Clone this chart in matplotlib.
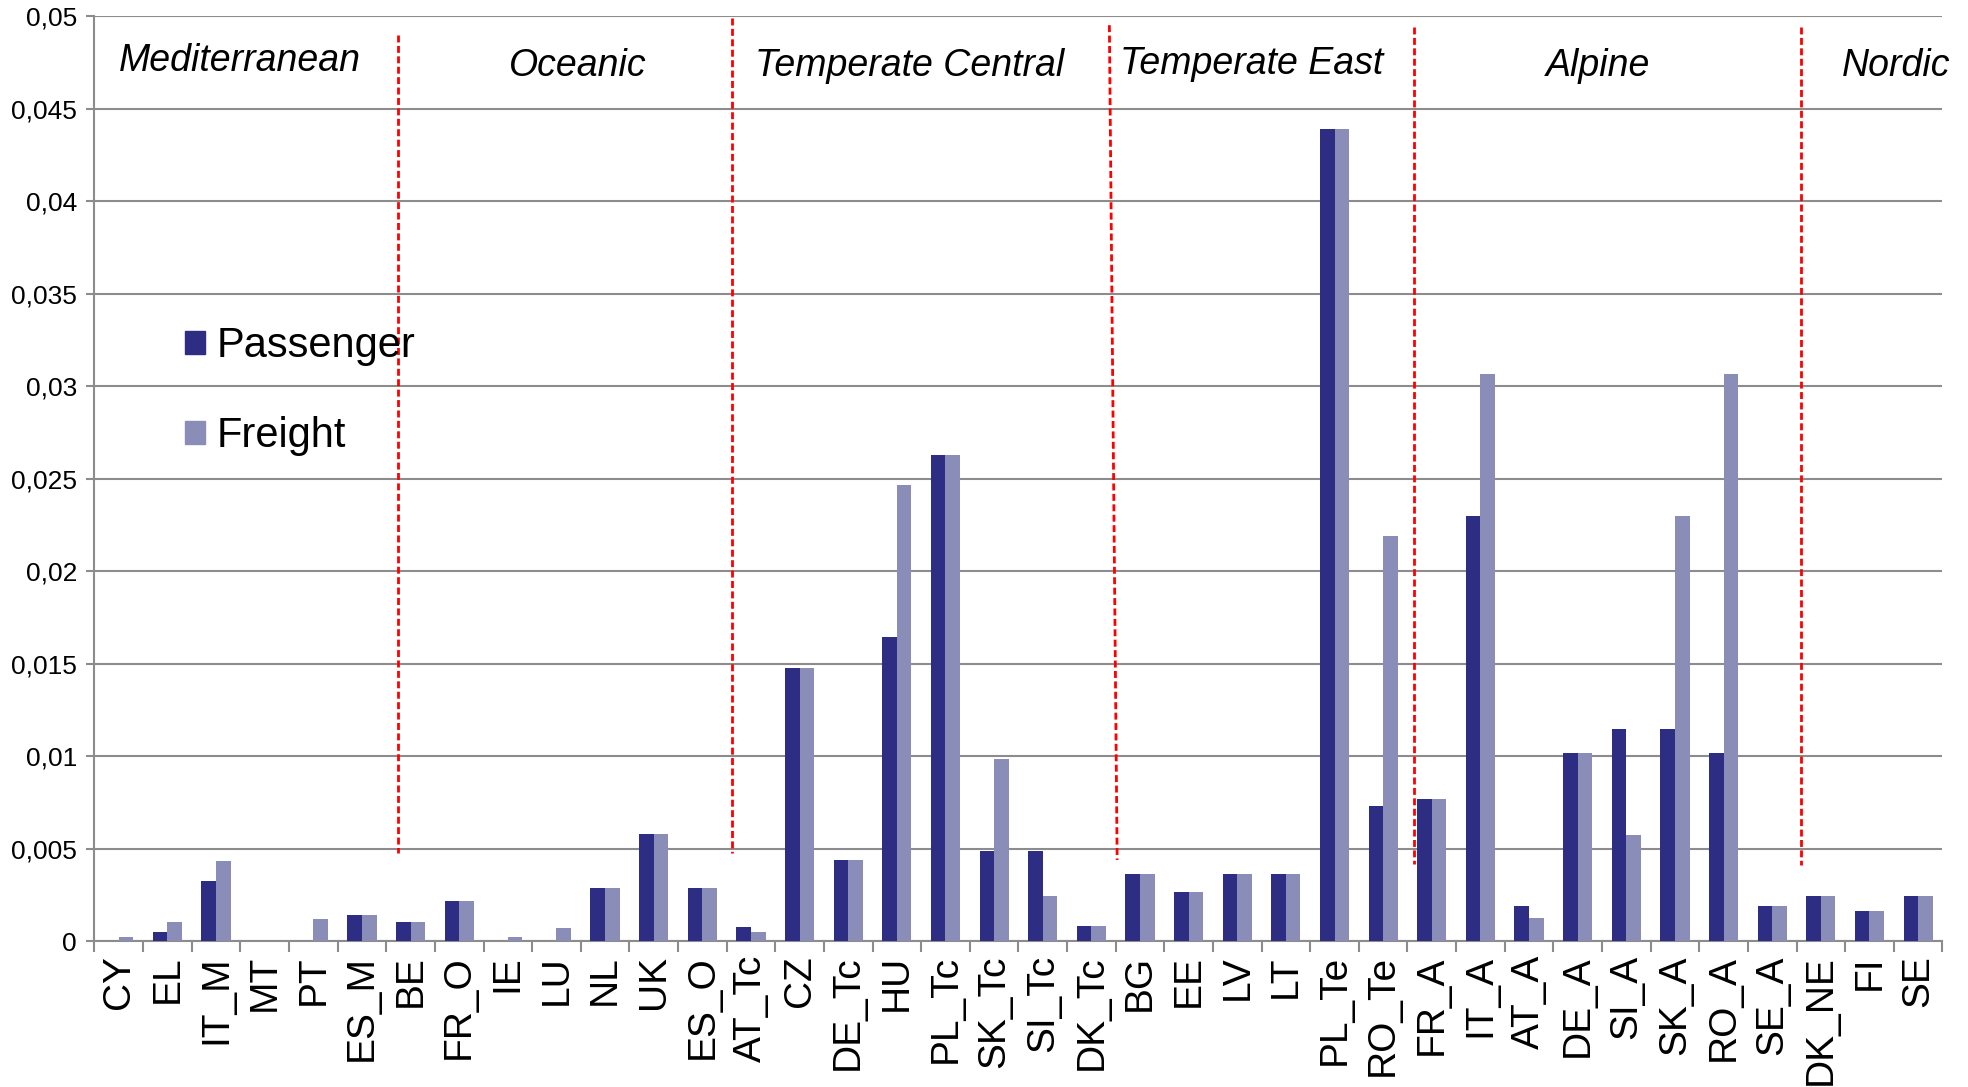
import numpy as np
import matplotlib
matplotlib.use('Agg')
import matplotlib.pyplot as plt
from matplotlib.patches import Patch
from matplotlib.ticker import FuncFormatter, FixedLocator

plt.rcParams['font.family'] = ['Liberation Sans', 'DejaVu Sans']
plt.rcParams['lines.scale_dashes'] = False

# data
countries = ['CY', 'EL', 'IT_M', 'MT', 'PT', 'ES_M', 'BE', 'FR_O', 'IE', 'LU', 'NL', 'UK',
             'ES_O', 'AT_Tc', 'CZ', 'DE_Tc', 'HU', 'PL_Tc', 'SK_Tc', 'SI_Tc', 'DK_Tc',
             'BG', 'EE', 'LV', 'LT', 'PL_Te', 'RO_Te',
             'FR_A', 'IT_A', 'AT_A', 'DE_A', 'SI_A', 'SK_A', 'RO_A', 'SE_A',
             'DK_NE', 'FI', 'SE']
passenger = [0, 0.00052, 0.00326, 0, 0, 0.00144, 0.00106, 0.00218, 0, 0, 0.0029, 0.00582,
             0.0029, 0.00079, 0.01479, 0.00437, 0.01644, 0.02631, 0.0049, 0.0049, 0.00081,
             0.00362, 0.00269, 0.00362, 0.00362, 0.04389, 0.0073,
             0.00767, 0.02301, 0.00189, 0.01018, 0.01148, 0.01148, 0.01018, 0.00189,
             0.00245, 0.00164, 0.00245]
freight = [0.00025, 0.00106, 0.00436, 0, 0.00121, 0.00144, 0.00106, 0.00218, 0.00025, 0.0007,
           0.0029, 0.00582, 0.0029, 0.00052, 0.01479, 0.00437, 0.02468, 0.02631, 0.00985,
           0.00246, 0.00081, 0.00362, 0.00269, 0.00362, 0.00362, 0.04389, 0.02191,
           0.00767, 0.03067, 0.00126, 0.01018, 0.00574, 0.02301, 0.03067, 0.00189,
           0.00245, 0.00164, 0.00245]

regions = ['Mediterranean', 'Oceanic', 'Temperate Central', 'Temperate East', 'Alpine', 'Nordic']
region_x = [2.49, 9.43, 16.27, 23.29, 30.41, 36.55]
region_y = [0.04756, 0.0473, 0.0473, 0.04743, 0.0473, 0.0473]

# hand drawn separators: (x top, x bottom, y top, y bottom)
sep_x_top = [5.74, 12.6, 20.37, 26.64, 34.59]
sep_x_bot = [5.74, 12.6, 20.53, 26.64, 34.59]
sep_y_top = [0.04898, 0.0499, 0.04952, 0.0494, 0.0494]
sep_y_bot = [0.00475, 0.00475, 0.0044, 0.0042, 0.0041]

dark = '#2e2d84'
light = '#8b8db9'
grid = '#8c8c8c'

fig = plt.figure(figsize=(19.68, 10.87), dpi=100)
ax = fig.add_axes([0.048, 0.134, 0.939, 0.851])

x = np.arange(len(countries))
w = 0.3
ax.bar(x - w / 2, passenger, w, color=dark, zorder=3)
ax.bar(x + w / 2, freight, w, color=light, zorder=3)

ax.set_xlim(-0.5, len(countries) - 0.5)
ax.set_ylim(0, 0.05)
ax.set_yticks(np.arange(0, 0.0501, 0.005))
ax.yaxis.set_major_formatter(FuncFormatter(lambda v, p: f'{v:.3f}'.rstrip('0').rstrip('.').replace('.', ',')))
ax.grid(axis='y', color=grid, linewidth=1.5, zorder=0)
ax.set_axisbelow(True)

ax.set_xticks(x)
ax.set_xticklabels(countries, rotation=90, fontsize=28)
ax.xaxis.set_minor_locator(FixedLocator(np.arange(-0.5, len(countries), 1)))
ax.tick_params(axis='x', which='major', length=0, pad=10)
ax.tick_params(axis='x', which='minor', length=8, width=1.5, color=grid)
ax.tick_params(axis='y', length=5.5, width=1.5, color=grid, labelsize=19, pad=7)

for s in ['top', 'right']:
    ax.spines[s].set_visible(False)
for s in ['left', 'bottom']:
    ax.spines[s].set_color(grid)
    ax.spines[s].set_linewidth(1.5)

for xt, xb, yt, yb in zip(sep_x_top, sep_x_bot, sep_y_top, sep_y_bot):
    ax.plot([xt, xb], [yt, yb], color='red', linewidth=2, dashes=(5, 2.5), zorder=4, clip_on=False)

for name, rx, ry in zip(regions, region_x, region_y):
    ax.text(rx, ry, name, fontsize=27, style='italic', ha='center', va='center', zorder=5)

handles = [Patch(color=dark, label='Passenger'), Patch(color=light, label='Freight')]
ax.legend(handles=handles, loc='upper left', bbox_to_anchor=(0.049, 0.665), frameon=False,
          fontsize=30, handlelength=0.48, handleheight=0.48, handletextpad=0.27,
          labelspacing=1.2, borderpad=0, borderaxespad=0)

plt.savefig('out.png')
